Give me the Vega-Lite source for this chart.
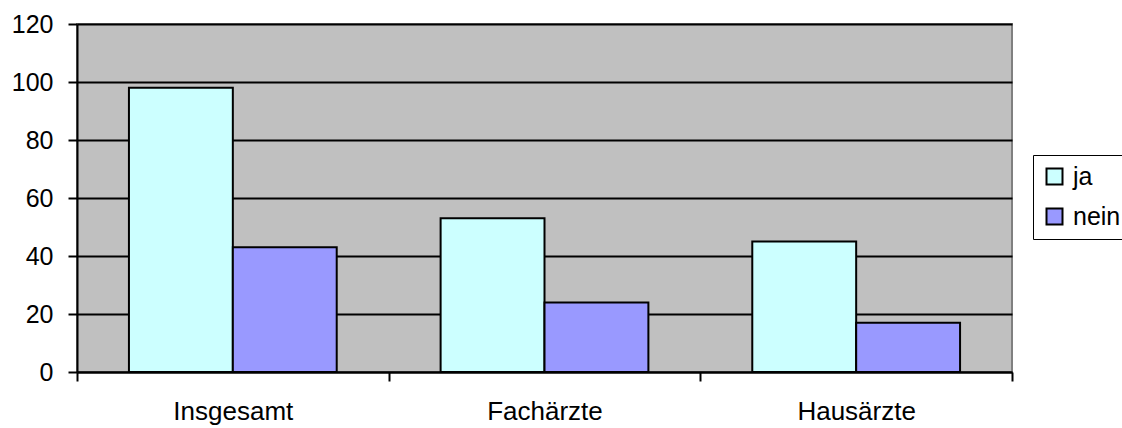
{
  "$schema": "https://vega.github.io/schema/vega-lite/v6.json",
  "autosize": "none",
  "width": 935,
  "height": 348,
  "padding": {"left": 77, "top": 24, "right": 110, "bottom": 56},
  "background": "white",
  "config": {
    "font": "Liberation Sans",
    "view": {"fill": "#C0C0C0", "stroke": "#808080", "strokeWidth": 2}
  },
  "data": {
    "values": [
      {"gruppe": "Insgesamt", "antwort": "ja", "wert": 98},
      {"gruppe": "Insgesamt", "antwort": "nein", "wert": 43},
      {"gruppe": "Fachärzte", "antwort": "ja", "wert": 53},
      {"gruppe": "Fachärzte", "antwort": "nein", "wert": 24},
      {"gruppe": "Hausärzte", "antwort": "ja", "wert": 45},
      {"gruppe": "Hausärzte", "antwort": "nein", "wert": 17}
    ]
  },
  "mark": {"type": "bar", "stroke": "black", "strokeWidth": 2},
  "encoding": {
    "x": {
      "field": "gruppe",
      "type": "nominal",
      "sort": ["Insgesamt", "Fachärzte", "Hausärzte"],
      "scale": {"paddingInner": 0, "paddingOuter": 0},
      "axis": {
        "title": null,
        "labelAngle": 0,
        "labelFontSize": 26,
        "labelColor": "black",
        "labelPadding": 17,
        "tickBand": "extent",
        "tickSize": 9,
        "tickColor": "black",
        "tickWidth": 2,
        "domainColor": "black",
        "domainWidth": 2,
        "grid": false
      }
    },
    "xOffset": {
      "field": "antwort",
      "type": "nominal",
      "scale": {"paddingInner": 0, "paddingOuter": 0.5}
    },
    "y": {
      "field": "wert",
      "type": "quantitative",
      "scale": {"domain": [0, 120], "nice": false},
      "axis": {
        "title": null,
        "values": [0, 20, 40, 60, 80, 100, 120],
        "labelFontSize": 25,
        "labelColor": "black",
        "labelPadding": 15,
        "tickSize": 9,
        "tickColor": "black",
        "tickWidth": 2,
        "domainColor": "black",
        "domainWidth": 2,
        "grid": true,
        "gridColor": "black",
        "gridWidth": 2,
        "gridOpacity": 1
      }
    },
    "color": {
      "field": "antwort",
      "type": "nominal",
      "scale": {"domain": ["ja", "nein"], "range": ["#CCFFFF", "#9999FF"]},
      "legend": {
        "title": null,
        "orient": "none",
        "legendX": 956,
        "legendY": 131,
        "fillColor": "white",
        "strokeColor": "black",
        "padding": 9,
        "symbolType": "square",
        "symbolSize": 256,
        "symbolStrokeColor": "black",
        "symbolStrokeWidth": 2,
        "symbolOffset": 0,
        "labelFontSize": 25,
        "labelColor": "black",
        "labelOffset": 6,
        "rowPadding": 14
      }
    }
  }
}
